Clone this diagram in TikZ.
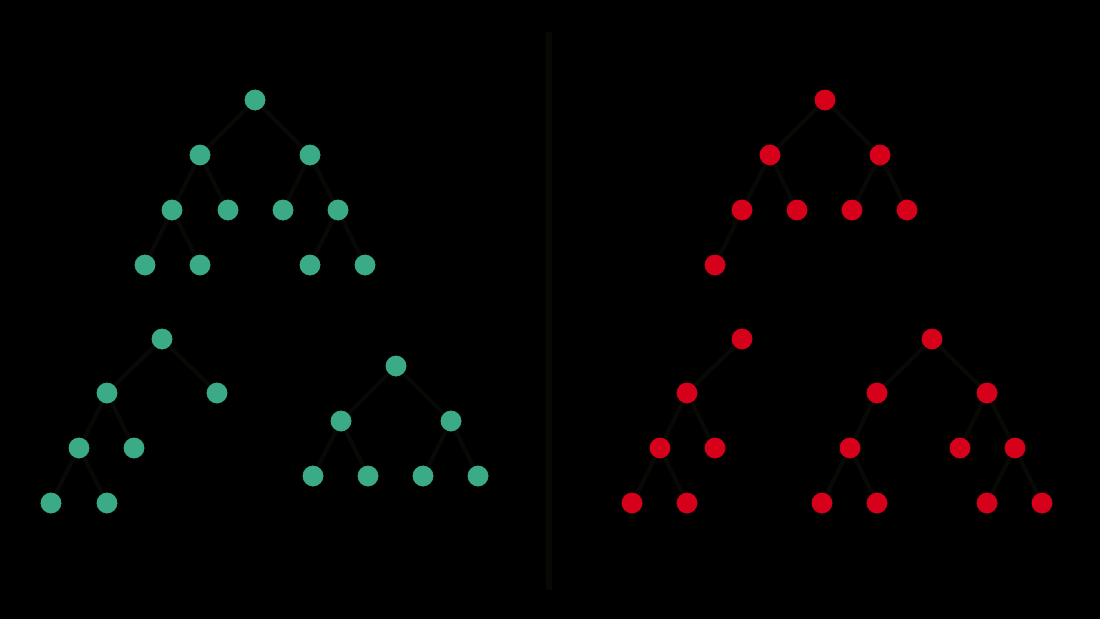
\documentclass[tikz,border=0pt]{standalone}
\usepackage{xcolor}
\usepackage{tikz}
\definecolor{PageInk}{HTML}{000000}
\definecolor{BranchInk}{HTML}{080905}
\definecolor{TreeGreen}{HTML}{3AAA87}
\definecolor{TreeRed}{HTML}{D7001A}
\tikzset{
  pixels/.style={x=0.02cm,y=-0.02cm},
  leaf/.style={circle,draw=black,line width=0.5pt,minimum size=0.44cm,inner sep=0pt},
  greenleaf/.style={leaf,fill=TreeGreen},
  redleaf/.style={leaf,fill=TreeRed},
  branch/.style={draw=BranchInk,line width=2.4pt},
}

\begin{document}
\begin{tikzpicture}[pixels]
  \fill[PageInk] (0,0) rectangle (1100,619);
  \useasboundingbox (0,0) rectangle (1100,619);

  % divider
  \coordinate (divtop) at (549,32);
  \coordinate (divbot) at (549,590);
  \draw[branch,line width=3pt] (divtop) -- (divbot);

  % upper left tree
  \node[greenleaf] (ga) at (255,100) {};
  \node[greenleaf] (gb) at (200,155) {};
  \node[greenleaf] (gc) at (310,155) {};
  \node[greenleaf] (gd) at (172,210) {};
  \node[greenleaf] (ge) at (228,210) {};
  \node[greenleaf] (gf) at (283,210) {};
  \node[greenleaf] (gg) at (338,210) {};
  \node[greenleaf] (gh) at (145,265) {};
  \node[greenleaf] (gi) at (200,265) {};
  \node[greenleaf] (gj) at (310,265) {};
  \node[greenleaf] (gk) at (365,265) {};
  \foreach \p/\c in {ga/gb,ga/gc,gb/gd,gb/ge,gc/gf,gc/gg,gd/gh,gd/gi,gg/gj,gg/gk}
    \draw[branch] (\p) -- (\c);

  % lower left trees
  \node[greenleaf] (hl) at (162,339) {};
  \node[greenleaf] (hm) at (107,393) {};
  \node[greenleaf] (hn) at (217,393) {};
  \node[greenleaf] (ho) at (79,448) {};
  \node[greenleaf] (hp) at (134,448) {};
  \node[greenleaf] (hq) at (51,503) {};
  \node[greenleaf] (hr) at (107,503) {};
  \foreach \p/\c in {hl/hm,hl/hn,hm/ho,hm/hp,ho/hq,ho/hr}
    \draw[branch] (\p) -- (\c);

  \node[greenleaf] (ka) at (396,366) {};
  \node[greenleaf] (kb) at (341,421) {};
  \node[greenleaf] (kc) at (451,421) {};
  \node[greenleaf] (kd) at (313,476) {};
  \node[greenleaf] (ke) at (368,476) {};
  \node[greenleaf] (kf) at (423,476) {};
  \node[greenleaf] (kg) at (478,476) {};
  \foreach \p/\c in {ka/kb,ka/kc,kb/kd,kb/ke,kc/kf,kc/kg}
    \draw[branch] (\p) -- (\c);

  % upper right tree
  \node[redleaf] (ra) at (825,100) {};
  \node[redleaf] (rb) at (770,155) {};
  \node[redleaf] (rc) at (880,155) {};
  \node[redleaf] (rd) at (742,210) {};
  \node[redleaf] (re) at (797,210) {};
  \node[redleaf] (rf) at (852,210) {};
  \node[redleaf] (rg) at (907,210) {};
  \node[redleaf] (rh) at (715,265) {};
  \foreach \p/\c in {ra/rb,ra/rc,rb/rd,rb/re,rc/rf,rc/rg,rd/rh}
    \draw[branch] (\p) -- (\c);

  % lower right trees
  \node[redleaf] (sa) at (742,339) {};
  \node[redleaf] (sb) at (687,393) {};
  \node[redleaf] (sc) at (660,448) {};
  \node[redleaf] (sd) at (715,448) {};
  \node[redleaf] (se) at (632,503) {};
  \node[redleaf] (sf) at (687,503) {};
  \foreach \p/\c in {sa/sb,sb/sc,sb/sd,sc/se,sc/sf}
    \draw[branch] (\p) -- (\c);

  \node[redleaf] (ta) at (932,339) {};
  \node[redleaf] (tb) at (877,393) {};
  \node[redleaf] (tc) at (987,393) {};
  \node[redleaf] (td) at (850,448) {};
  \node[redleaf] (te) at (960,448) {};
  \node[redleaf] (tf) at (1015,448) {};
  \node[redleaf] (tg) at (822,503) {};
  \node[redleaf] (th) at (877,503) {};
  \node[redleaf] (ti) at (987,503) {};
  \node[redleaf] (tj) at (1042,503) {};
  \foreach \p/\c in {ta/tb,ta/tc,tb/td,tc/te,tc/tf,td/tg,td/th,tf/ti,tf/tj}
    \draw[branch] (\p) -- (\c);
\end{tikzpicture}
\end{document}
